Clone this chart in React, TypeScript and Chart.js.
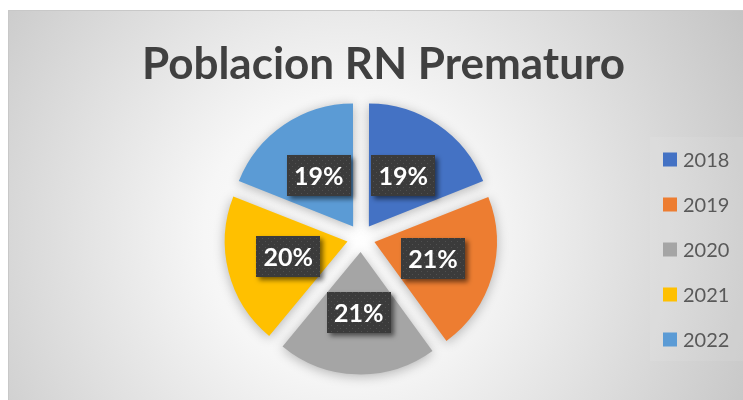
import React, { useEffect, useRef } from "react";
import { Chart, registerables } from "chart.js";

Chart.register(...registerables);

const categories = ["2018", "2019", "2020", "2021", "2022"];
const values = [19, 21, 21, 20, 19];
const sliceColors = ["#4472C4", "#ED7D31", "#A5A5A5", "#FFC000", "#5B9BD5"];
const titleText = "Poblacion RN Prematuro";

function makeDotPattern(ctx: CanvasRenderingContext2D) {
  const c = document.createElement("canvas");
  c.width = 6;
  c.height = 6;
  const p = c.getContext("2d")!;
  p.fillStyle = "#3b3b3b";
  p.fillRect(0, 0, 6, 6);
  p.fillStyle = "#505050";
  p.fillRect(1, 1, 1, 1);
  p.fillRect(4, 4, 1, 1);
  return ctx.createPattern(c, "repeat");
}

const decorPlugin = {
  id: "decor",
  beforeDraw(chart: any) {
    const ctx: CanvasRenderingContext2D = chart.ctx;
    const W = chart.width;
    const H = chart.height;
    ctx.save();
    ctx.fillStyle = "#ffffff";
    ctx.fillRect(0, 0, W, H);
    const g = ctx.createRadialGradient(345, 235, 0, 345, 235, 470);
    g.addColorStop(0, "#ffffff");
    g.addColorStop(0.3, "#f6f6f6");
    g.addColorStop(1, "#c2c2c2");
    ctx.fillStyle = g;
    ctx.fillRect(8, 10, W - 8, H - 10);
    ctx.strokeStyle = "#c8c8c8";
    ctx.lineWidth = 1;
    ctx.beginPath();
    ctx.moveTo(8.5, H);
    ctx.lineTo(8.5, 10.5);
    ctx.lineTo(W, 10.5);
    ctx.stroke();
    // legend box tint
    ctx.fillStyle = "rgba(255,255,255,0.08)";
    ctx.fillRect(650, 137, 93, 224);
    // title
    ctx.fillStyle = "#404040";
    ctx.font = "bold 44px Lato, 'Open Sans', sans-serif";
    ctx.textAlign = "center";
    ctx.textBaseline = "alphabetic";
    ctx.fillText(titleText, 383.5, 79);
    // legend
    ctx.font = "20px Lato, 'Open Sans', sans-serif";
    ctx.textAlign = "left";
    ctx.textBaseline = "middle";
    categories.forEach((cat, i) => {
      const cy = 159.5 + i * 45;
      ctx.fillStyle = sliceColors[i];
      ctx.fillRect(663, cy - 7, 14, 14);
      ctx.fillStyle = "#595959";
      ctx.fillText(cat, 683, cy + 1);
    });
    ctx.restore();
  },
  beforeDatasetsDraw(chart: any) {
    const ctx = chart.ctx;
    ctx.save();
    ctx.shadowColor = "rgba(0,0,0,0.28)";
    ctx.shadowBlur = 12;
    ctx.shadowOffsetX = 0;
    ctx.shadowOffsetY = 2;
  },
  afterDatasetsDraw(chart: any) {
    const ctx: CanvasRenderingContext2D = chart.ctx;
    ctx.restore();
    const meta = chart.getDatasetMeta(0);
    const data = chart.data.datasets[0].data as number[];
    const total = data.reduce((a, b) => a + b, 0);
    const pattern = makeDotPattern(ctx);
    meta.data.forEach((arc: any, i: number) => {
      const { x, y, startAngle, endAngle, outerRadius } = arc.getProps(
        ["x", "y", "startAngle", "endAngle", "outerRadius"],
        true
      );
      const mid = (startAngle + endAngle) / 2;
      const rr = outerRadius * 0.615;
      const lx = x + Math.cos(mid) * rr;
      const ly = y + Math.sin(mid) * rr;
      const bw = 64;
      const bh = 41;
      ctx.save();
      ctx.shadowColor = "rgba(0,0,0,0.55)";
      ctx.shadowBlur = 5;
      ctx.shadowOffsetX = 3;
      ctx.shadowOffsetY = 3;
      ctx.fillStyle = pattern || "#3b3b3b";
      ctx.fillRect(Math.round(lx - bw / 2), Math.round(ly - bh / 2), bw, bh);
      ctx.restore();
      ctx.save();
      ctx.fillStyle = "#ffffff";
      ctx.font = "bold 25px Lato, 'Open Sans', sans-serif";
      ctx.textAlign = "center";
      ctx.textBaseline = "middle";
      ctx.fillText(Math.round((data[i] / total) * 100) + "%", lx, ly + 1);
      ctx.restore();
    });
  },
};

export default function App() {
  const ref = useRef<HTMLCanvasElement | null>(null);
  useEffect(() => {
    document.body.style.margin = "0";
    const canvas = ref.current!;
    const chart = new Chart(canvas, {
      type: "pie",
      data: {
        labels: categories,
        datasets: [
          {
            data: values,
            backgroundColor: sliceColors,
            borderWidth: 0,
            offset: 56,
            hoverOffset: 0,
          },
        ],
      },
      options: {
        responsive: false,
        animation: false,
        radius: 122,
        layout: { padding: { left: 100, right: 121, top: 96, bottom: 20 } },
        plugins: {
          legend: { display: false },
          title: { display: false },
          tooltip: { enabled: false },
        },
        events: [],
      } as any,
      plugins: [decorPlugin],
    });
    return () => chart.destroy();
  }, []);
  return (
    <canvas
      ref={ref}
      width={743}
      height={400}
      style={{ display: "block", width: 743, height: 400 }}
    />
  );
}
